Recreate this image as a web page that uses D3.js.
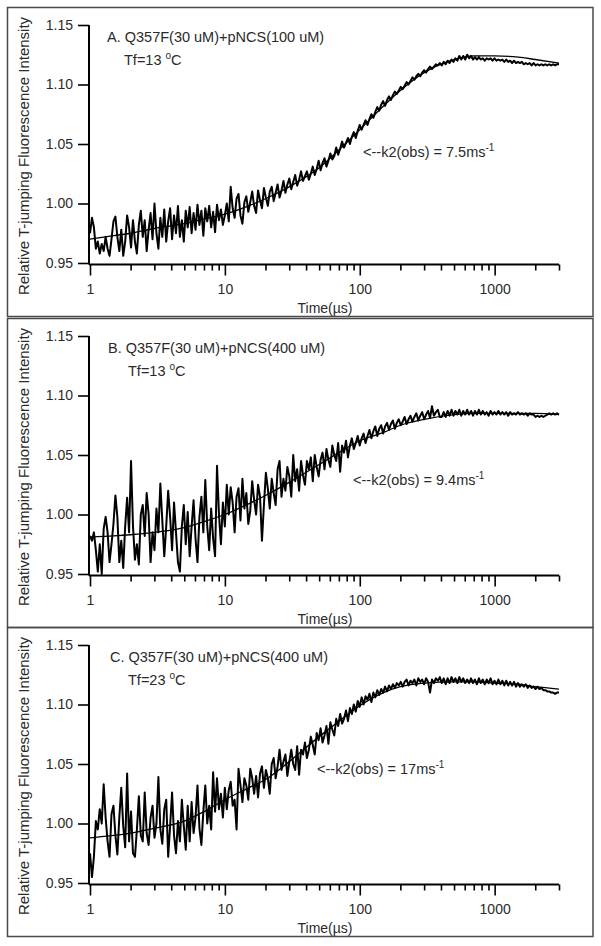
<!DOCTYPE html>
<html><head><meta charset="utf-8">
<script src="https://cdn.jsdelivr.net/npm/d3@7"></script>
<style>
body{margin:0;background:#fff}
svg{display:block}
text{font-family:"Liberation Sans",Arial,sans-serif;fill:#2a2a2a}
</style>
</head><body>
<svg id="chart" width="601" height="946"></svg>
<script>
// ---------------- data ----------------
const panelTitles = ["A. Q357F(30 uM)+pNCS(100 uM)", "B. Q357F(30 uM)+pNCS(400 uM)", "C. Q357F(30 uM)+pNCS(400 uM)"];
const tempLabels = ["Tf=13  ", "Tf=13 ", "Tf=23  "];
const rateLabels = ["<--k2(obs) = 7.5ms", "<--k2(obs) = 9.4ms", "<--k2(obs) = 17ms"];
const yTickValues = [0.95, 1.00, 1.05, 1.10, 1.15];
const xMajorTicks = [1, 10, 100, 1000];
const xMinorTicks = [2,3,4,5,6,7,8,9,20,30,40,50,60,70,80,90,200,300,400,500,600,700,800,900,2000,3000];
const yTitle = "Relative T-jumping Fluorescence Intensity";
const xTitle = "Time(\u00b5s)";

// fitted curves (time in µs, relative intensity)
const fitTimes = [1,1.5,2,3,5,7,10,15,20,30,50,70,100,150,200,300,500,700,1000,1500,2000,3000];
const fitA = [0.970,0.973,0.975,0.979,0.983,0.987,0.991,0.998,1.004,1.014,1.030,1.045,1.062,1.082,1.095,1.110,1.121,1.124,1.124,1.123,1.121,1.118];
const fitB = [0.981,0.982,0.983,0.985,0.989,0.994,1.000,1.009,1.016,1.027,1.042,1.052,1.062,1.069,1.075,1.080,1.084,1.085,1.085,1.085,1.085,1.084];
const fitC = [0.988,0.990,0.992,0.996,1.002,1.010,1.020,1.030,1.037,1.052,1.073,1.086,1.099,1.110,1.115,1.118,1.119,1.119,1.118,1.117,1.115,1.113];

// measured traces, relative intensity x1000, sampled on a log-uniform time base from 1 to 3000 µs
const traceStartTime = 1, traceEndTime = 3000;
const traceA = [
975,988,980,962,968,958,966,960,972,962,
956,970,985,989,972,960,978,956,968,990,
980,963,986,968,958,982,994,972,986,960,
978,992,970,1000,975,962,988,972,995,968,
985,996,970,990,975,998,972,986,968,994,
980,997,975,992,978,999,982,994,973,996,
985,998,980,993,976,999,986,995,982,990,
1000,985,1014,996,988,1004,1008,990,983,1001,
1006,993,1001,1010,998,992,1011,1003,996,1013,
1005,998,1010,1014,1002,1009,1016,1005,1011,1019,
1009,1016,1021,1012,1018,1024,1015,1020,1027,1019,
1023,1027,1020,1025,1031,1024,1029,1036,1028,1034,
1038,1031,1036,1042,1037,1040,1047,1041,1046,1052,
1047,1051,1055,1050,1056,1060,1055,1061,1066,1062,
1066,1070,1066,1071,1075,1072,1077,1081,1078,1083,
1086,1082,1087,1090,1087,1091,1094,1092,1095,1098,
1096,1099,1102,1100,1103,1106,1104,1107,1109,1107,
1110,1112,1110,1113,1115,1113,1115,1117,1116,1118,
1116,1119,1117,1120,1118,1121,1119,1122,1120,1124,
1121,1124,1121,1125,1122,1124,1121,1123,1121,1123,
1121,1122,1120,1122,1121,1122,1120,1122,1120,1121,
1120,1121,1119,1121,1119,1120,1118,1120,1118,1119,
1118,1119,1117,1118,1117,1118,1116,1118,1116,1117,
1116,1117,1116,1117,1116,1117,1116,1117,1116,1117,
1117];
const traceB = [
982,978,985,970,952,975,950,988,998,985,
960,975,992,1016,998,960,978,955,990,1014,
985,1045,990,962,975,958,1000,1008,982,1018,
1000,960,985,970,1005,985,1026,995,965,990,
1020,998,970,1010,985,960,952,990,1008,975,
1002,965,990,1012,980,960,998,1015,985,1029,
990,970,1005,980,965,1041,1000,975,1010,990,
1025,1000,1023,1010,985,1015,1022,995,1030,1005,
1018,992,1003,1028,1012,1000,1025,1015,978,1008,
1035,1022,1005,1030,1018,1008,1038,1045,1015,1030,
1020,1040,1032,1015,1050,1028,1038,1020,1045,1033,
1025,1045,1038,1048,1028,1050,1040,1032,1046,1052,
1038,1055,1046,1040,1058,1050,1045,1060,1036,1058,
1052,1062,1048,1058,1064,1055,1060,1066,1058,1064,
1068,1060,1066,1071,1064,1070,1074,1066,1072,1075,
1068,1074,1077,1071,1076,1079,1072,1077,1080,1075,
1078,1082,1076,1080,1083,1078,1082,1085,1079,1083,
1086,1080,1084,1087,1081,1091,1083,1086,1088,1082,
1082,1086,1082,1087,1083,1088,1083,1087,1084,1088,
1083,1087,1084,1088,1084,1087,1083,1087,1084,1088,
1084,1087,1084,1086,1083,1087,1084,1086,1084,1087,
1084,1086,1084,1086,1083,1086,1084,1085,1084,1086,
1084,1085,1084,1085,1083,1085,1084,1084,1082,1083,
1082,1083,1082,1083,1084,1085,1084,1085,1084,1085,
1084];
const traceC = [
975,955,972,1002,995,1012,1000,1033,1005,985,
972,1008,1015,990,974,1005,1030,998,980,1042,
985,1010,975,972,995,1023,990,985,1026,992,
982,1005,1015,988,1000,1039,995,983,1012,1020,
972,998,1026,990,975,1002,985,1020,998,978,
1015,985,1018,992,1005,1032,996,982,1010,1032,
1000,1015,995,1043,1010,1038,1012,1025,1005,1030,
1012,1028,1035,1015,1020,995,1046,1032,1018,1038,
1032,1020,1046,1038,1025,1040,1022,1042,1048,1030,
1045,1038,1025,1050,1055,1038,1048,1062,1045,1052,
1058,1040,1052,1062,1050,1045,1065,1041,1062,1058,
1068,1055,1062,1073,1066,1058,1076,1070,1080,1068,
1074,1082,1067,1085,1079,1074,1088,1082,1092,1084,
1088,1095,1086,1097,1092,1100,1094,1103,1098,1106,
1100,1107,1104,1109,1102,1110,1106,1112,1108,1113,
1110,1115,1111,1116,1113,1117,1114,1118,1116,1119,
1115,1119,1121,1116,1120,1118,1121,1116,1122,1119,
1121,1117,1122,1119,1110,1121,1118,1122,1120,1123,
1118,1122,1117,1122,1118,1123,1119,1122,1118,1123,
1119,1122,1118,1121,1118,1122,1118,1121,1117,1122,
1118,1121,1117,1121,1118,1122,1117,1120,1117,1121,
1117,1120,1116,1120,1116,1119,1116,1119,1115,1118,
1115,1117,1115,1117,1114,1116,1114,1115,1113,1115,
1113,1114,1112,1112,1111,1111,1110,1110,1109,1110,
1110];

// ---------------- layout ----------------
const svg = d3.select("#chart");
const panelTops = [25, 336, 645];   // y of 1.15
const plotH = 238;
const x = d3.scaleLog().domain([1, 3000]).range([90, 559]);

const panels = [
  {fit: fitA, trace: traceA},
  {fit: fitB, trace: traceB},
  {fit: fitC, trace: traceC}
];
const rateX = [363, 353, 317];
const rateY = [157, 485, 774];
const titleX = [107, 108, 110];
const tempX = [124, 128, 128];

panels.forEach((p, k) => {
  const top = panelTops[k];
  const y = d3.scaleLinear().domain([0.95, 1.15]).range([top + plotH, top]);
  const g = svg.append("g");

  // frame
  g.append("rect").attr("x", 7.5).attr("y", top - 17.5).attr("width", 585.5).attr("height", 309)
    .attr("fill", "none").attr("stroke", "#4a4a4a").attr("stroke-width", 1.5);

  // trace
  const n = p.trace.length;
  const lt = d3.scaleLinear().domain([0, n - 1]).range([Math.log10(traceStartTime), Math.log10(traceEndTime)]);
  const traceData = p.trace.map((v, i) => ({t: Math.pow(10, lt(i)), v: v / 1000}));
  const line = d3.line().x(d => x(d.t)).y(d => y(d.v));
  g.append("path").datum(traceData).attr("d", line)
    .attr("fill", "none").attr("stroke", "#000").attr("stroke-width", 2).attr("stroke-linejoin", "round");

  // fit
  const fitData = fitTimes.map((t, i) => ({t, v: p.fit[i]}));
  g.append("path").datum(fitData).attr("d", line.curve(d3.curveMonotoneX))
    .attr("fill", "none").attr("stroke", "#000").attr("stroke-width", 1.3);

  // axes
  const axisY = top + plotH + 1.5;
  const xMajor = g.append("g").attr("transform", `translate(0,${axisY})`)
    .call(d3.axisBottom(x).tickValues(xMajorTicks).tickFormat(d3.format("d")).tickSizeInner(11).tickSizeOuter(0).tickPadding(9));
  const xMinor = g.append("g").attr("transform", `translate(0,${axisY})`)
    .call(d3.axisBottom(x).tickValues(xMinorTicks).tickFormat("").tickSizeInner(6).tickSizeOuter(0));
  xMinor.select(".domain").remove();
  [xMajor, xMinor].forEach(a => {
    a.selectAll("line").attr("stroke", "#000").attr("stroke-width", 1.6);
    a.select(".domain").attr("stroke", "#000").attr("stroke-width", 2).attr("d", `M89,0H559`);
  });
  xMajor.selectAll("text").attr("font-size", 14).attr("fill", "#2a2a2a").attr("font-family", '"Liberation Sans",Arial,sans-serif');

  const yAx = g.append("g").attr("transform", `translate(89,0)`)
    .call(d3.axisLeft(y).tickValues(yTickValues).tickFormat(d3.format(".2f")).tickSizeInner(11).tickSizeOuter(0).tickPadding(5));
  yAx.selectAll("line").attr("stroke", "#000").attr("stroke-width", 1.6);
  yAx.select(".domain").attr("stroke", "#000").attr("stroke-width", 2).attr("d", `M0,${top}V${axisY}`);
  yAx.selectAll("text").attr("font-size", 14).attr("fill", "#2a2a2a").attr("font-family", '"Liberation Sans",Arial,sans-serif');

  // axis titles
  g.append("text").attr("x", 325).attr("y", top + 288).attr("text-anchor", "middle")
    .attr("font-size", 14).text(xTitle);
  g.append("text").attr("transform", `translate(29,${top + 131}) rotate(-90)`).attr("text-anchor", "middle")
    .attr("font-size", 15).text(yTitle);

  // panel annotations
  g.append("text").attr("x", titleX[k]).attr("y", top + 17).attr("font-size", 14.5).text(panelTitles[k]);
  const tt = g.append("text").attr("x", tempX[k]).attr("y", top + 40).attr("font-size", 14.5);
  tt.append("tspan").text(tempLabels[k]);
  tt.append("tspan").attr("dy", -6).attr("font-size", 10).text("o");
  tt.append("tspan").attr("dy", 6).text("C");

  const rt = g.append("text").attr("x", rateX[k]).attr("y", rateY[k]).attr("font-size", 14.5);
  rt.append("tspan").text(rateLabels[k]);
  rt.append("tspan").attr("dy", -6).attr("font-size", 10).text("-1");
});
</script>
</body></html>
